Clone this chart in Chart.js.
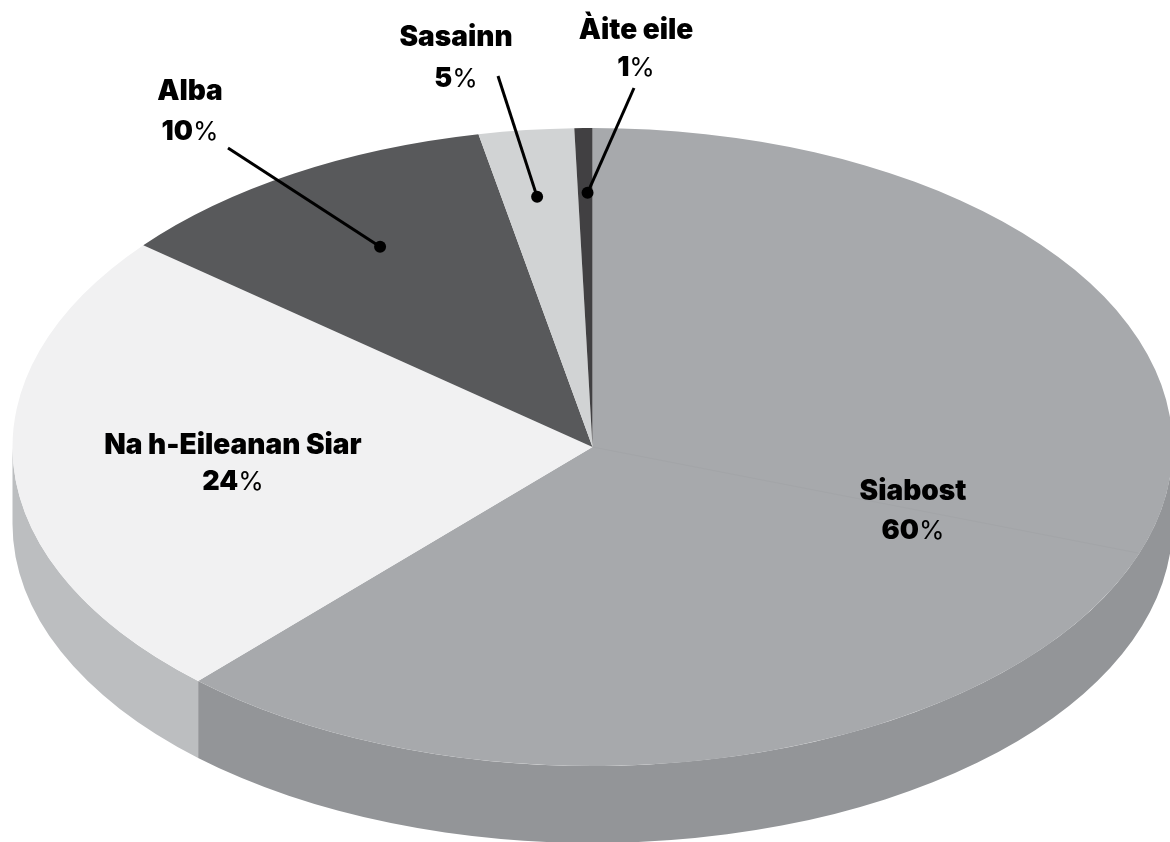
<!DOCTYPE html>
<html>
<head>
<meta charset="utf-8">
<title>Siabost</title>
<script src="https://cdn.jsdelivr.net/npm/chart.js"></script>
<style>
  html, body { margin: 0; padding: 0; background: #fff; }
  canvas { display: block; }
</style>
</head>
<body>
  <canvas id="myChart" width="1170" height="842"></canvas>
  <script type="text/javascript">
    const categories = ['Siabost', 'Na h-Eileanan Siar', 'Alba', 'Sasainn', 'Àite eile'];
    // printed percentages
    const percentLabels = [60, 24, 10, 5, 1];
    // slice sizes as drawn in the picture, they differ a bit from the printed numbers
    const drawnShares = [61.9, 24, 10.95, 2.65, 0.5];
    const topColors = ['#a7a9ac', '#f1f1f2', '#58595b', '#d1d3d4', '#414042'];
    const sideColors = ['#939598', '#bcbec0', '#414042', '#a7a9ac', '#231f20'];

    const cx = 592.5, cy = 447, rx = 580, ry = 319, depth = 77;
    const fontFamily = 'Inter';
    const fontSize = 28;

    // label centres and where each leader line starts (no line for the big slices)
    const labelBoxes = [
      { x: 913, y1: 492, y2: 531 },
      { x: 233, y1: 446, y2: 482 },
      { x: 190, y1: 92, y2: 132, lineFrom: [228, 148], dot: 0.727, turn: 0.014 },
      { x: 456, y1: 38, y2: 79, lineFrom: [498, 76], dot: 0.79, turn: -0.0065 },
      { x: 636, y1: 31, y2: 68, lineFrom: [634, 88], dot: 0.797, turn: 0.005 }
    ];

    function drawPercent(ctx, value, x, y) {
      const num = String(value);
      ctx.font = '900 ' + (fontSize - 1) + 'px ' + fontFamily;
      const w1 = ctx.measureText(num).width;
      ctx.font = '400 ' + (fontSize - 2) + 'px ' + fontFamily;
      const w2 = ctx.measureText('%').width;
      const left = x - (w1 + w2) / 2;
      ctx.textAlign = 'left';
      ctx.font = '900 ' + (fontSize - 1) + 'px ' + fontFamily;
      ctx.fillText(num, left, y);
      ctx.font = '400 ' + (fontSize - 2) + 'px ' + fontFamily;
      ctx.fillText('%', left + w1, y);
      ctx.textAlign = 'center';
    }

    const tiltPlugin = {
      id: 'tilt',
      beforeDatasetsDraw(chart) {
        const ctx = chart.ctx;
        const arcs = chart.getDatasetMeta(0).data;

        // side wall, only the front half of the ellipse shows
        arcs.forEach((arc, i) => {
          const a0 = Math.max(arc.startAngle, 0);
          const a1 = Math.min(arc.endAngle, Math.PI);
          if (a1 <= a0) return;
          ctx.beginPath();
          ctx.ellipse(cx, cy, rx, ry, 0, a0, a1);
          ctx.ellipse(cx, cy + depth, rx, ry, 0, a1, a0, true);
          ctx.closePath();
          ctx.fillStyle = sideColors[i];
          ctx.fill();
        });

        const first = arcs[0];
        ctx.save();
        ctx.translate(cx, cy);
        ctx.scale(rx / first.outerRadius, ry / first.outerRadius);
        ctx.translate(-first.x, -first.y);
      },
      afterDatasetsDraw(chart) {
        const ctx = chart.ctx;
        ctx.restore();
        const arcs = chart.getDatasetMeta(0).data;

        // faint seam in the big slice
        ctx.strokeStyle = '#a3a5a8';
        ctx.lineWidth = 1;
        ctx.beginPath();
        ctx.moveTo(cx, cy);
        ctx.lineTo(1138, 553);
        ctx.stroke();

        ctx.fillStyle = '#000';
        ctx.strokeStyle = '#000';
        ctx.textBaseline = 'middle';
        ctx.textAlign = 'center';

        labelBoxes.forEach((box, i) => {
          ctx.font = '900 ' + fontSize + 'px ' + fontFamily;
          ctx.fillText(categories[i], box.x, box.y1);
          drawPercent(ctx, percentLabels[i], box.x, box.y2);

          if (box.lineFrom) {
            const mid = (arcs[i].startAngle + arcs[i].endAngle) / 2 + box.turn;
            const dx = cx + Math.cos(mid) * rx * box.dot;
            const dy = cy + Math.sin(mid) * ry * box.dot;
            ctx.lineWidth = 3;
            ctx.beginPath();
            ctx.moveTo(box.lineFrom[0], box.lineFrom[1]);
            ctx.lineTo(dx, dy);
            ctx.stroke();
            ctx.beginPath();
            ctx.arc(dx, dy, 6, 0, Math.PI * 2);
            ctx.fill();
          }
        });
      }
    };

    new Chart(document.getElementById('myChart').getContext('2d'), {
      type: 'pie',
      data: {
        labels: categories,
        datasets: [{
          data: drawnShares,
          backgroundColor: topColors,
          borderWidth: 0,
          clip: false
        }]
      },
      options: {
        responsive: false,
        animation: false,
        events: [],
        plugins: {
          legend: { display: false },
          tooltip: { enabled: false }
        }
      },
      plugins: [tiltPlugin]
    });
  </script>
</body>
</html>
